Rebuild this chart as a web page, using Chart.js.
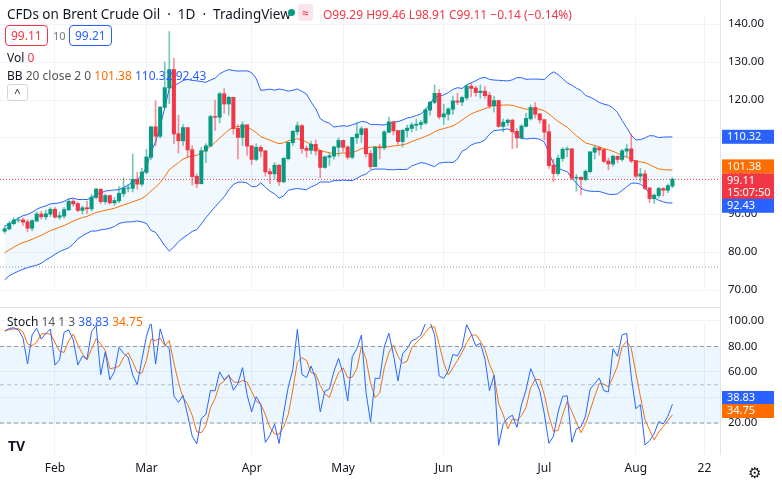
<!DOCTYPE html>
<html><head><meta charset="utf-8">
<script src="https://cdn.jsdelivr.net/npm/chart.js@4.4.1/dist/chart.umd.min.js"></script>
<style>
body{margin:0;width:782px;height:482px;background:#fff;font-family:"Noto Sans",Roboto,sans-serif;overflow:hidden;position:relative;color:#131722}
.wrap{position:absolute;left:0;width:782px}
.t{position:absolute;font-size:12px;white-space:nowrap}
.box{position:absolute;border:1px solid;border-radius:4px;font-size:12px;padding:1px 5px}
</style></head><body>
<div class="wrap" style="top:0;height:306px"><canvas id="top" width="782" height="306"></canvas></div>
<div class="wrap" style="top:309px;height:173px"><canvas id="bot" width="782" height="173"></canvas></div>
<div style="position:absolute;left:0;top:307px;width:720px;height:1px;background:#e0e3eb"></div>
<div style="position:absolute;left:720px;top:0;width:1px;height:455px;background:#e0e3eb"></div>
<div class="t" style="left:7px;top:5px;font-size:13.5px">CFDs on Brent Crude Oil &nbsp;·&nbsp; 1D &nbsp;·&nbsp; TradingView</div>
<div class="t" style="left:288px;top:9px;width:7px;height:7px;border-radius:50%;background:#089981"></div>
<div class="t" style="left:298px;top:4px;background:#fce4ec;color:#f23645;border-radius:3px;padding:0 4px;font-size:12px">≈</div>
<div class="t" style="left:323px;top:6px;color:#f23645">O99.29 H99.46 L98.91 C99.11 −0.14 (−0.14%)</div>
<div class="box" style="left:5px;top:25px;border-color:#f23645;color:#f23645">99.11</div>
<div class="t" style="left:53px;top:28px;color:#787b86;font-size:11px">10</div>
<div class="box" style="left:69px;top:25px;border-color:#2962ff;color:#2962ff">99.21</div>
<div class="t" style="left:7px;top:49px">Vol <span style="color:#f23645">0</span></div>
<div class="t" style="left:7px;top:67px">BB <span style="color:#555">20 close 2 0</span> <span style="color:#ff6d00">101.38</span> <span style="color:#2962ff">110.32</span> <span style="color:#2962ff">92.43</span></div>
<div class="t" style="left:7px;top:84px;width:19px;height:15px;border:1px solid #d1d4dc;border-radius:3px;text-align:center;font-size:11px">^</div>
<div class="t" style="left:7px;top:313px">Stoch <span style="color:#555">14 1 3</span> <span style="color:#2962ff">38.83</span> <span style="color:#ff6d00">34.75</span></div>
<div class="t" style="left:8px;top:436px;font-weight:bold;font-size:14px">TV</div>
<div class="t" style="left:748px;top:462px;font-size:15px;color:#131722">⚙</div>
<script>
const warmupCloses=[73.9,75.0,73.5,71.5,73.98,75.3,76.85,78.6,78.9,78.94,79.2,77.8,78.98,80.0,80.8,81.99,81.75,80.9,80.87,83.7,84.67,84.47];
const closes=[86.1,87.5,88.4,88.4,87.9,86.3,88.2,89.96,89.3,90.0,91.2,
89.2,89.5,91.1,93.3,92.7,91.0,91.6,91.4,94.4,96.5,93.3,94.8,92.97,93.5,95.4,96.8,96.8,99.1,97.9,100.99,
104.97,112.9,110.5,118.1,123.2,127.98,111.1,109.3,112.7,106.9,99.9,98.0,106.6,107.9,115.6,115.5,121.6,119.0,120.65,112.5,110.2,113.45,107.9,
104.4,107.5,106.6,101.1,100.6,102.8,98.5,104.6,108.8,111.7,113.2,107.25,106.8,108.3,106.65,102.3,104.99,105.3,107.6,109.3,
107.6,104.97,110.1,111.0,112.4,105.9,102.5,107.5,107.45,111.55,114.2,111.9,109.1,112.0,112.55,113.4,113.6,114.0,117.4,119.4,121.7,115.6,
116.3,117.6,119.7,119.5,120.6,123.6,123.1,122.0,122.3,121.2,118.5,119.8,113.1,114.1,114.65,111.7,110.05,113.1,115.1,117.98,116.3,114.8,
111.6,102.8,100.7,104.65,107.0,107.1,99.5,99.6,99.1,101.2,106.3,107.35,106.9,103.9,103.2,105.15,104.4,106.6,107.1,104.0,
100.0,100.5,96.8,94.1,94.9,96.65,96.3,97.4,99.11];
const highs=[86.8,88.1,89.0,89.1,88.9,88.5,88.5,90.5,90.7,91.0,91.7,
91.7,90.5,91.7,93.9,94.0,93.0,92.1,93.4,95.2,96.8,96.3,95.2,95.0,94.3,97.2,99.5,97.9,105.8,101.0,102.0,
107.0,113.0,119.8,118.2,130.0,138.0,131.0,116.0,113.5,111.0,108.0,100.5,107.5,108.5,116.0,120.0,122.0,123.0,121.0,120.4,113.5,114.3,113.0,
108.0,108.5,108.0,106.6,101.9,103.5,103.0,104.9,109.0,112.0,114.2,113.6,108.0,109.2,109.5,106.7,105.3,106.0,107.9,110.0,
109.5,108.0,110.2,114.0,113.0,112.6,106.7,107.8,108.4,112.0,115.5,114.4,112.0,112.2,113.4,114.0,115.0,114.6,117.7,119.6,124.0,122.8,
118.9,118.0,121.0,121.8,121.0,124.0,124.4,123.6,124.0,123.5,122.0,121.0,120.0,115.0,115.0,115.0,112.5,113.5,116.5,118.7,119.3,116.5,
114.6,113.5,104.4,105.5,107.5,107.7,107.2,100.4,99.8,101.6,106.4,108.0,107.8,107.0,104.8,105.5,105.0,107.0,108.4,111.0,
104.0,102.0,101.5,97.0,95.3,97.1,97.0,97.9,99.6];
const lows=[84.9,85.8,87.1,87.8,87.0,85.3,85.6,87.9,88.6,88.5,89.3,
88.9,88.5,88.9,91.0,92.0,90.6,90.0,90.1,90.8,94.0,92.7,92.6,92.6,92.3,93.0,94.6,95.8,95.8,96.5,97.3,
100.5,104.3,108.0,110.0,118.0,119.0,108.5,106.0,108.0,104.9,97.6,96.9,98.0,103.5,107.8,112.0,114.0,116.5,116.0,111.0,104.5,108.0,105.4,
103.0,104.0,105.0,100.0,98.0,99.2,97.5,98.2,104.2,108.0,110.8,106.0,105.0,105.8,105.5,99.5,102.0,102.8,104.4,105.2,
106.5,104.4,104.5,108.6,108.8,105.0,101.9,102.8,104.5,106.9,111.5,110.8,108.3,107.6,110.3,111.6,112.0,112.4,113.6,116.0,119.0,115.0,
113.6,114.7,116.2,118.8,118.5,120.0,120.9,121.0,120.5,120.4,117.8,116.8,112.8,111.6,113.2,107.2,107.4,109.7,112.9,114.7,115.3,113.9,
109.5,102.0,98.5,100.2,103.8,105.0,99.0,96.0,95.0,98.7,100.9,104.5,105.5,103.5,101.6,102.6,103.5,103.9,105.0,103.5,
99.5,98.4,96.4,93.0,92.8,94.3,94.7,95.6,96.9];
const firstOpen=85.5;
const monthLabels=["Feb","Mar","Apr","May","Jun","Jul","Aug","22"];
const monthIdx=[11,31,54,74,96,118,138,153];
const priceTicks=[70,80,90,100,110,120,130,140];
const stochTicks=[20,40,60,80,100];
const lastPrice=99.11, bbLabels=[110.32,101.38,92.43], stochLabels=[38.83,34.75];
const grayLevel=76.05;

const UP='#089981',DN='#f23645',BLUE='#2962ff',ORG='#ff6d00';
const N=closes.length, W=warmupCloses.length;
const opens=closes.map((c,i)=>i?closes[i-1]:firstOpen);
const allC=warmupCloses.concat(closes);
const allH=warmupCloses.concat(highs), allL=warmupCloses.concat(lows);
const mid=[],up=[],lo=[],K=[],D=[];
for(let i=0;i<N;i++){
  const j=i+W, w=allC.slice(Math.max(0,j-19),j+1);
  const m=w.reduce((a,b)=>a+b,0)/w.length;
  const sd=Math.sqrt(w.reduce((a,b)=>a+(b-m)*(b-m),0)/w.length);
  mid.push({x:i,y:m});up.push({x:i,y:m+2*sd});lo.push({x:i,y:m-2*sd});
  const hh=Math.max(...allH.slice(j-13,j+1)), ll=Math.min(...allL.slice(j-13,j+1));
  K.push(100*(allC[j]-ll)/(hh-ll));
}
for(let i=0;i<N;i++){const w=K.slice(Math.max(0,i-2),i+1);D.push(w.reduce((a,b)=>a+b,0)/w.length);}
const XMIN=-1.02,XMAX=156.4;
const col=closes.map((c,i)=>c>=opens[i]?UP:DN);
const wickCol=col.map(c=>c===UP?'rgba(8,153,129,0.55)':'rgba(242,54,69,0.55)');
const font={family:'"Noto Sans",Roboto,sans-serif',size:11};
function badge(ctx,y,txt,bg,fg){ctx.fillStyle=bg;ctx.fillRect(722,y-7,52,14);ctx.fillStyle=fg||'#fff';ctx.font='11px "Noto Sans"';ctx.textBaseline='middle';ctx.textAlign='left';ctx.fillText(txt,727,y);}
const xScale=(show)=>({type:'linear',min:XMIN,max:XMAX,offset:false,display:true,
  afterBuildTicks:s=>{s.ticks=monthIdx.map(v=>({value:v}));},
  ticks:{display:show,color:'#131722',font:{...font,size:12},padding:6,maxRotation:0,autoSkip:false,callback:(v)=>monthLabels[monthIdx.indexOf(v)]},
  grid:{color:'#f0f3fa',drawTicks:false,offset:false},border:{display:false},afterFit:s=>{s.height=show?27:0;}});
function calib(v1,p1,v2,p2){return {id:'cal',afterLayout(c){
  if(c.$cal)return;c.$cal=true;const a=c.chartArea,k=(v1-v2)/(p2-p1);
  c.options.scales.y.max=v1+(p1-a.top)*k;c.options.scales.y.min=v1-(a.bottom-p1)*k;c.update();}};}
const baseOpts=(ticks,show)=>({responsive:false,maintainAspectRatio:false,devicePixelRatio:1,animation:false,layout:{padding:0},plugins:{legend:{display:false},tooltip:{enabled:false}},
   scales:{x:xScale(show),
    y:{position:'right',min:0,max:150,afterBuildTicks:s=>{s.ticks=ticks.map(v=>({value:v}));},
     ticks:{color:'#131722',font:{...font,size:11.5},padding:8,callback:v=>v.toFixed(2)},grid:{color:'#f0f3fa',drawTicks:false},border:{display:false},afterFit:s=>{s.width=62;}}}});

new Chart(document.getElementById('top'),{
  data:{datasets:[
   {type:'line',data:up,borderColor:BLUE,borderWidth:1,pointRadius:0,fill:'+1',backgroundColor:'rgba(33,150,243,0.06)',order:3},
   {type:'line',data:lo,borderColor:BLUE,borderWidth:1,pointRadius:0,order:3},
   {type:'line',data:mid,borderColor:ORG,borderWidth:1,pointRadius:0,order:2},
   {type:'line',data:[{x:XMIN,y:lastPrice},{x:XMAX,y:lastPrice}],borderColor:DN,borderWidth:1,borderDash:[1,2],pointRadius:0,order:4},
   {type:'line',data:[{x:XMIN,y:grayLevel},{x:XMAX,y:grayLevel}],borderColor:'#9598a1',borderWidth:1,borderDash:[1,2],pointRadius:0,order:4},
   {type:'bar',data:closes.map((c,i)=>({x:i,y:[lows[i],highs[i]]})),backgroundColor:wickCol,barThickness:1,grouped:false,order:1},
   {type:'bar',data:closes.map((c,i)=>({x:i,y:[Math.min(opens[i],c)-0.05,Math.max(opens[i],c)+0.05]})),backgroundColor:col,barThickness:3.4,grouped:false,order:0}
  ]},
  options:baseOpts(priceTicks,false),
  plugins:[calib(140,24,70,290),{id:'b',afterDraw(c){const y=c.scales.y,ctx=c.ctx;
    badge(ctx,y.getPixelForValue(bbLabels[0]),'110.32',BLUE);
    const p=y.getPixelForValue(lastPrice);
    badge(ctx,p-13,'101.38',ORG);
    ctx.fillStyle=DN;ctx.fillRect(722,p-6,52,26);
    ctx.fillStyle='#fff';ctx.font='11px "Noto Sans"';ctx.textBaseline='middle';ctx.fillText('99.11',727,p+1);ctx.fillText('15:07:50',727,p+13);
    badge(ctx,y.getPixelForValue(bbLabels[2])+1,'92.43',BLUE);}}]
});

new Chart(document.getElementById('bot'),{
  data:{datasets:[
   {type:'line',data:[{x:XMIN,y:80},{x:XMAX,y:80}],borderColor:'#9598a1',borderWidth:1,borderDash:[4,3],pointRadius:0,fill:'+1',backgroundColor:'rgba(33,150,243,0.09)'},
   {type:'line',data:[{x:XMIN,y:20},{x:XMAX,y:20}],borderColor:'#9598a1',borderWidth:1,borderDash:[4,3],pointRadius:0},
   {type:'line',data:[{x:XMIN,y:50},{x:XMAX,y:50}],borderColor:'rgba(149,152,161,0.6)',borderWidth:1,borderDash:[4,3],pointRadius:0},
   {type:'line',data:K.map((v,i)=>({x:i,y:v})),borderColor:BLUE,borderWidth:1,pointRadius:0},
   {type:'line',data:D.map((v,i)=>({x:i,y:v})),borderColor:ORG,borderWidth:1,pointRadius:0}
  ]},
  options:baseOpts(stochTicks,true),
  plugins:[calib(100,12,20,114),{id:'b2',afterDraw(c){const y=c.scales.y,ctx=c.ctx;
    badge(ctx,89,'38.83',BLUE);
    badge(ctx,102,'34.75',ORG);}}]
});
</script></body></html>
